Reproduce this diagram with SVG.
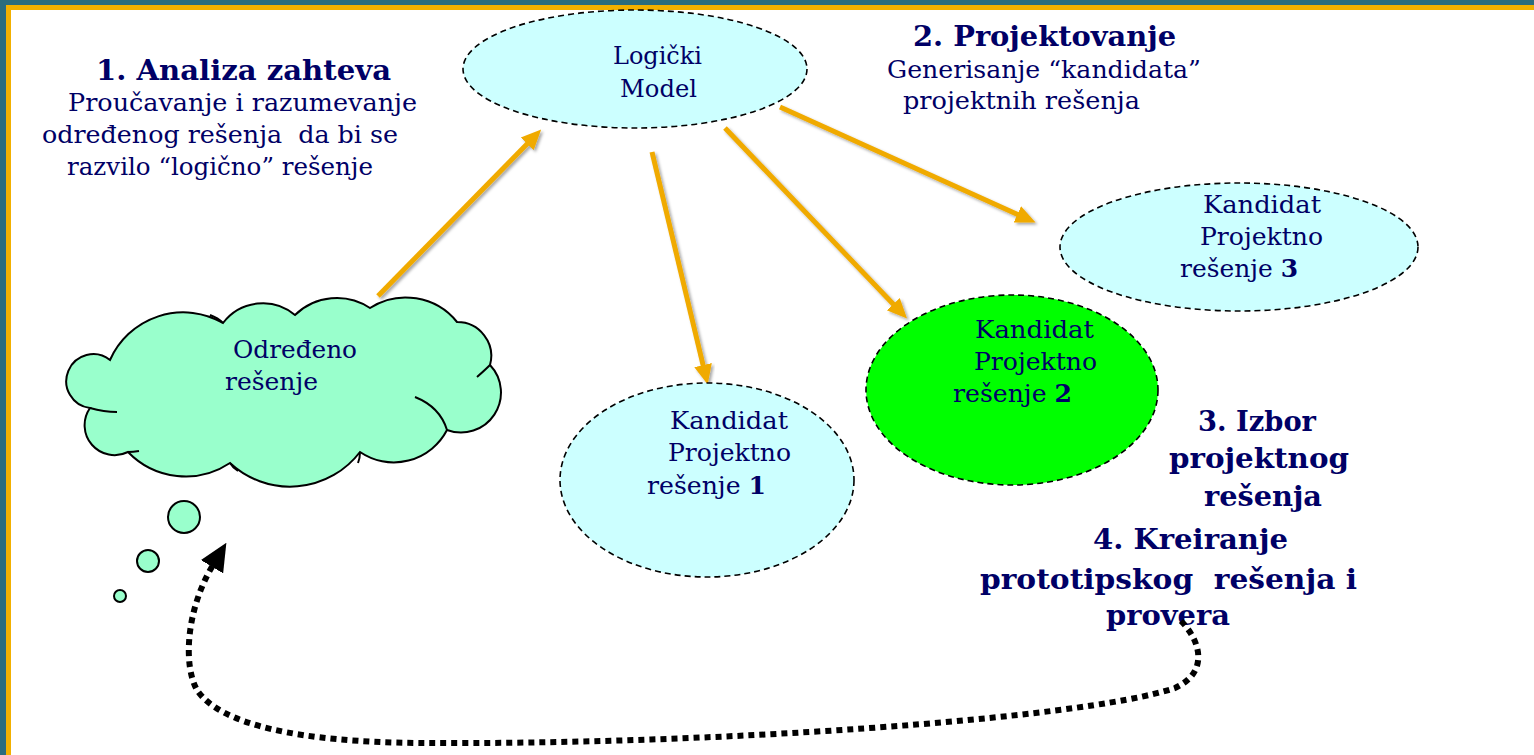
<svg xmlns="http://www.w3.org/2000/svg" width="1534" height="755" viewBox="0 0 1534 755">
<style>
.t{font-family:"DejaVu Serif","Liberation Serif",serif;font-size:25px;fill:#000066;white-space:pre}
.h{font-family:"DejaVu Serif","Liberation Serif",serif;font-size:28px;font-weight:bold;fill:#000066;white-space:pre}
.b{font-weight:bold}
.el{stroke:#000;stroke-width:1.6;stroke-dasharray:6 4}
.oa{fill:none;stroke:#F0AA00;stroke-width:5;marker-end:url(#oh);filter:url(#sh)}
.cl{fill:#99FFCC;stroke:#000;stroke-width:2}
</style>
<defs>
<marker id="oh" markerUnits="userSpaceOnUse" markerWidth="20" markerHeight="20" refX="4" refY="9" orient="auto" viewBox="0 0 20 18">
<path d="M0,0 L20,9 L0,18 Z" fill="#F0AA00"/>
</marker>
<marker id="bh" markerUnits="userSpaceOnUse" markerWidth="28" markerHeight="26" refX="2" refY="13" orient="auto" viewBox="0 0 28 26">
<path d="M0,0 L28,13 L0,26 Z" fill="#000"/>
</marker>
<filter id="sh" x="-20%" y="-20%" width="140%" height="140%">
<feDropShadow dx="2" dy="2" stdDeviation="1.5" flood-color="#000" flood-opacity="0.35"/>
</filter>
</defs>
<rect x="0" y="0" width="1534" height="755" fill="#fff"/>
<rect x="0" y="0" width="1534" height="5" fill="#2B6C7E"/>
<rect x="0" y="0" width="6" height="755" fill="#2B6C7E"/>
<rect x="6" y="5" width="1528" height="5" fill="#F2B000"/>
<rect x="6" y="5" width="5" height="750" fill="#F2B000"/>

<g id="labels">
<text class="h" x="96" y="80" textLength="295" lengthAdjust="spacingAndGlyphs">1. Analiza zahteva</text>
<text class="t" x="68" y="111" textLength="349" lengthAdjust="spacingAndGlyphs">Proučavanje i razumevanje</text>
<text class="t" x="42" y="143" textLength="356" lengthAdjust="spacingAndGlyphs">određenog rešenja  da bi se</text>
<text class="t" x="67" y="175" textLength="306" lengthAdjust="spacingAndGlyphs">razvilo “logično” rešenje</text>
<text class="h" x="913" y="46" textLength="263" lengthAdjust="spacingAndGlyphs">2. Projektovanje</text>
<text class="t" x="887" y="78" textLength="314" lengthAdjust="spacingAndGlyphs">Generisanje “kandidata”</text>
<text class="t" x="903" y="109" textLength="237" lengthAdjust="spacingAndGlyphs">projektnih rešenja</text>
<text class="h" x="1198" y="431" textLength="118" lengthAdjust="spacingAndGlyphs">3. Izbor</text>
<text class="h" x="1169" y="468" textLength="180" lengthAdjust="spacingAndGlyphs">projektnog</text>
<text class="h" x="1204" y="506" textLength="118" lengthAdjust="spacingAndGlyphs">rešenja</text>
<text class="h" x="1093" y="549" textLength="195" lengthAdjust="spacingAndGlyphs">4. Kreiranje</text>
<text class="h" x="980" y="589" textLength="377" lengthAdjust="spacingAndGlyphs">prototipskog  rešenja i</text>
<text class="h" x="1106" y="625" textLength="124" lengthAdjust="spacingAndGlyphs">provera</text>
</g>

<g id="connectors">
<path class="oa" d="M378,296 L530,141"/>
<path class="oa" d="M652,152 L704,369"/>
<path class="oa" d="M725,128 L896,307"/>
<path class="oa" d="M780,107 L1021,216"/>
<path d="M1181,621 C1200,640 1210,672 1175,688 C1080,720 700,745 420,743 C300,742 220,725 197,690 C183,665 186,610 213,565" fill="none" stroke="#000" stroke-width="6" stroke-dasharray="6 5" marker-end="url(#bh)"/>
</g>

<g id="logicki">
<ellipse class="el" cx="635" cy="69" rx="172" ry="59" fill="#CCFFFF"/>
<text class="t" x="613" y="64" textLength="89" lengthAdjust="spacingAndGlyphs">Logički</text>
<text class="t" x="620" y="97" textLength="77" lengthAdjust="spacingAndGlyphs">Model</text>
</g>

<g id="kandidat3">
<ellipse class="el" cx="1239" cy="247" rx="179" ry="64" fill="#CCFFFF"/>
<text class="t" x="1203" y="213" textLength="118" lengthAdjust="spacingAndGlyphs">Kandidat</text>
<text class="t" x="1200" y="245" textLength="123" lengthAdjust="spacingAndGlyphs">Projektno</text>
<text class="t" x="1180" y="277" textLength="118" lengthAdjust="spacingAndGlyphs">rešenje <tspan class="b">3</tspan></text>
</g>

<g id="kandidat2">
<ellipse class="el" cx="1012" cy="390" rx="146" ry="95" fill="#00FF00"/>
<text class="t" x="975" y="338" textLength="119" lengthAdjust="spacingAndGlyphs">Kandidat</text>
<text class="t" x="974" y="370" textLength="123" lengthAdjust="spacingAndGlyphs">Projektno</text>
<text class="t" x="953" y="402" textLength="119" lengthAdjust="spacingAndGlyphs">rešenje <tspan class="b">2</tspan></text>
</g>

<g id="kandidat1">
<ellipse class="el" cx="707" cy="480" rx="147" ry="97" fill="#CCFFFF"/>
<text class="t" x="670" y="429" textLength="118" lengthAdjust="spacingAndGlyphs">Kandidat</text>
<text class="t" x="668" y="461" textLength="123" lengthAdjust="spacingAndGlyphs">Projektno</text>
<text class="t" x="647" y="494" textLength="119" lengthAdjust="spacingAndGlyphs">rešenje <tspan class="b">1</tspan></text>
</g>

<g id="oblak">
<path class="cl" d="M110,360 A80,80 0 0 1 223,323 A50,50 0 0 1 295,315 A60,60 0 0 1 370,308 A66,66 0 0 1 457,322 A34,34 0 0 1 490,365 A40,40 0 0 1 447,430 A60,60 0 0 1 360,452 A88,88 0 0 1 230,463 A80,80 0 0 1 128,452 A30,30 0 0 1 90,408 A27,27 0 1 1 110,360 Z"/>
<path d="M90,408 Q104,412 117,412 M477,377 Q485,370 490,365 M415,397 Q440,407 447,430 M360,452 Q360,458 358,463 M230,463 Q233,468 238,471 M128,452 Q133,452 139,451 M210,315 Q218,318 223,323" fill="none" stroke="#000" stroke-width="2"/>
<text class="t" x="233" y="358" textLength="124" lengthAdjust="spacingAndGlyphs">Određeno</text>
<text class="t" x="225" y="390" textLength="93" lengthAdjust="spacingAndGlyphs">rešenje</text>
<circle cx="184" cy="517" r="16" class="cl"/>
<circle cx="148" cy="561" r="11" class="cl"/>
<circle cx="120" cy="596" r="6" class="cl" stroke-width="1.6"/>
</g>
</svg>
